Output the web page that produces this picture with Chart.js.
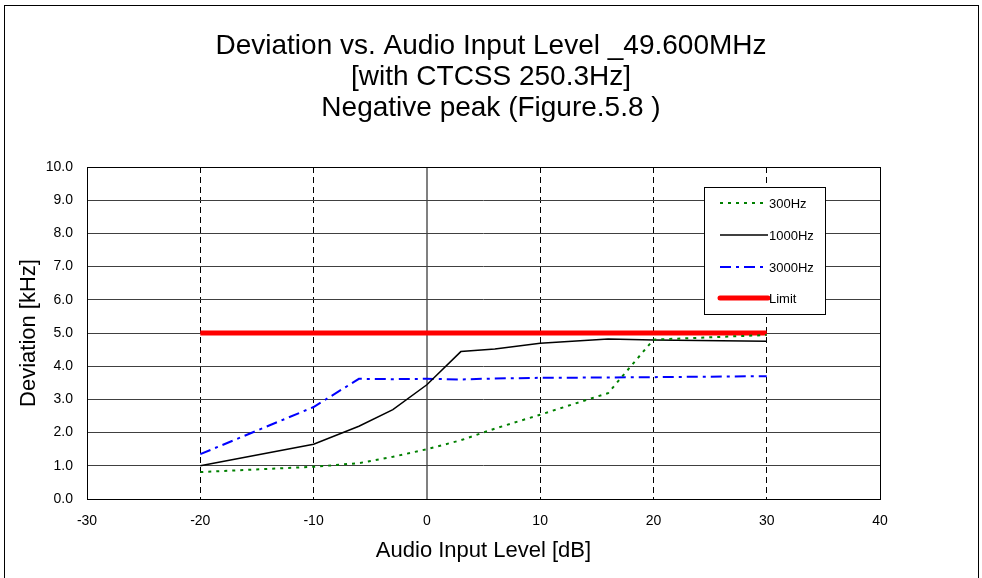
<!DOCTYPE html>
<html>
<head>
<meta charset="utf-8">
<script src="https://cdn.jsdelivr.net/npm/chart.js@4/dist/chart.umd.min.js"></script>
<style>
    html, body { margin: 0; padding: 0; background: #fff; }
    #wrap { width: 982px; height: 578px; }
</style>
</head>
<body>
<div id="wrap"><canvas id="deviation-chart" width="982" height="578"></canvas></div>
<script>
// Audio input level [dB]
const levels = [-20, -10, -6, -3, 0, 3, 6, 10, 16, 20, 30];

// Deviation [kHz]
const dev300 = [0.81, 0.97, 1.08, 1.27, 1.50, 1.77, 2.12, 2.54, 3.19, 4.80, 4.94];
const dev1000 = [1.00, 1.65, 2.19, 2.69, 3.44, 4.44, 4.52, 4.69, 4.82, 4.79, 4.75];
const dev3000 = [1.35, 2.77, 3.62, 3.61, 3.62, 3.60, 3.63, 3.65, 3.66, 3.67, 3.70];
const limit = [5.0, 5.0, 5.0, 5.0, 5.0, 5.0, 5.0, 5.0, 5.0, 5.0, 5.0];

const seriesNames = ['300Hz', '1000Hz', '3000Hz', 'Limit'];
const titleLines = ['Deviation vs. Audio Input Level _49.600MHz', '[with CTCSS 250.3Hz]', 'Negative peak (Figure.5.8 )'];

const FONT = '"Liberation Sans", Arial, sans-serif';

function toPoints(values) {
    return levels.map((x, i) => ({ x: x, y: values[i] }));
}

// рамка, заголовок и рамка области построения
const framePlugin = {
    id: 'frame',
    beforeDraw(chart) {
        const ctx = chart.ctx;
        ctx.save();
        ctx.fillStyle = '#fff';
        ctx.fillRect(0, 0, chart.width, chart.height);
        ctx.strokeStyle = '#000';
        ctx.lineWidth = 1;
        ctx.strokeRect(4.5, 5.5, 974, 600);

        ctx.fillStyle = '#000';
        ctx.font = '28px ' + FONT;
        ctx.textAlign = 'center';
        ctx.textBaseline = 'middle';
        titleLines.forEach((line, i) => {
            ctx.fillText(line, 491, 46 + i * 31);
        });
        ctx.restore();
    },
    afterDatasetsDraw(chart) {
        const a = chart.chartArea;
        const ctx = chart.ctx;
        ctx.save();
        ctx.strokeStyle = '#000';
        ctx.lineWidth = 1;
        ctx.strokeRect(Math.round(a.left) + 0.5, Math.round(a.top) + 0.5,
            Math.round(a.right - a.left), Math.round(a.bottom - a.top));
        ctx.restore();
    }
};

// легенда внутри области графика
const boxLegendPlugin = {
    id: 'boxLegend',
    afterDraw(chart) {
        const ctx = chart.ctx;
        const rows = [203, 235, 267, 298];
        ctx.save();
        ctx.fillStyle = '#fff';
        ctx.fillRect(704.5, 187.5, 121, 127);
        ctx.strokeStyle = '#000';
        ctx.lineWidth = 1;
        ctx.strokeRect(704.5, 187.5, 121, 127);

        chart.data.datasets.forEach((ds, i) => {
            const y = rows[i];
            ctx.beginPath();
            ctx.strokeStyle = ds.borderColor;
            ctx.lineWidth = ds.borderWidth;
            ctx.lineCap = i === 3 ? 'round' : 'butt';
            ctx.setLineDash(ds.borderDash || []);
            ctx.moveTo(720, y);
            ctx.lineTo(768, y);
            ctx.stroke();
            ctx.setLineDash([]);
            ctx.fillStyle = '#000';
            ctx.font = '13px ' + FONT;
            ctx.textAlign = 'left';
            ctx.textBaseline = 'middle';
            ctx.fillText(ds.label, 769, y + 1);
        });
        ctx.restore();
    }
};

const ctx = document.getElementById('deviation-chart').getContext('2d');
new Chart(ctx, {
    type: 'scatter',
    data: {
        datasets: [
            {
                label: seriesNames[0],
                data: toPoints(dev300),
                showLine: true,
                borderColor: '#008000',
                borderWidth: 2,
                borderDash: [3, 5],
                pointRadius: 0
            },
            {
                label: seriesNames[1],
                data: toPoints(dev1000),
                showLine: true,
                borderColor: '#000000',
                borderWidth: 1.5,
                pointRadius: 0
            },
            {
                label: seriesNames[2],
                data: toPoints(dev3000),
                showLine: true,
                borderColor: '#0000FF',
                borderWidth: 2,
                borderDash: [11, 5, 3, 5],
                pointRadius: 0
            },
            {
                label: seriesNames[3],
                data: toPoints(limit),
                showLine: true,
                borderColor: '#FF0000',
                borderWidth: 5,
                pointRadius: 0
            }
        ]
    },
    options: {
        responsive: false,
        animation: false,
        devicePixelRatio: 1,
        layout: {
            padding: { left: 16, right: 102, top: 167, bottom: 14 }
        },
        plugins: {
            legend: { display: false },
            title: { display: false },
            tooltip: { enabled: false }
        },
        scales: {
            x: {
                type: 'linear',
                min: -30,
                max: 40,
                afterFit: (scale) => { scale.height = 65; },
                ticks: {
                    stepSize: 10,
                    color: '#000',
                    padding: 14,
                    font: { family: FONT, size: 14 }
                },
                grid: {
                    drawTicks: false,
                    color: (c) => (c.tick && c.tick.value === 0) ? '#808080' : '#000',
                    lineWidth: (c) => (c.tick && c.tick.value === 0) ? 2 : 1
                },
                border: {
                    display: false,
                    dash: (c) => (c.tick && c.tick.value === 0) ? [] : [6, 4]
                },
                title: {
                    display: true,
                    text: 'Audio Input Level [dB]',
                    color: '#000',
                    font: { family: FONT, size: 22 },
                    padding: { top: 0, bottom: 0 }
                }
            },
            y: {
                min: 0,
                max: 10,
                afterFit: (scale) => { scale.width = 71; },
                ticks: {
                    stepSize: 1,
                    color: '#000',
                    padding: 14,
                    font: { family: FONT, size: 14 },
                    callback: (v) => Number(v).toFixed(1)
                },
                grid: {
                    drawTicks: false,
                    color: '#404040',
                    lineWidth: 1
                },
                border: { display: false },
                title: {
                    display: true,
                    text: 'Deviation [kHz]',
                    color: '#000',
                    font: { family: FONT, size: 22 },
                    padding: { top: 0, bottom: 4 }
                }
            }
        }
    },
    plugins: [framePlugin, boxLegendPlugin]
});
</script>
</body>
</html>
